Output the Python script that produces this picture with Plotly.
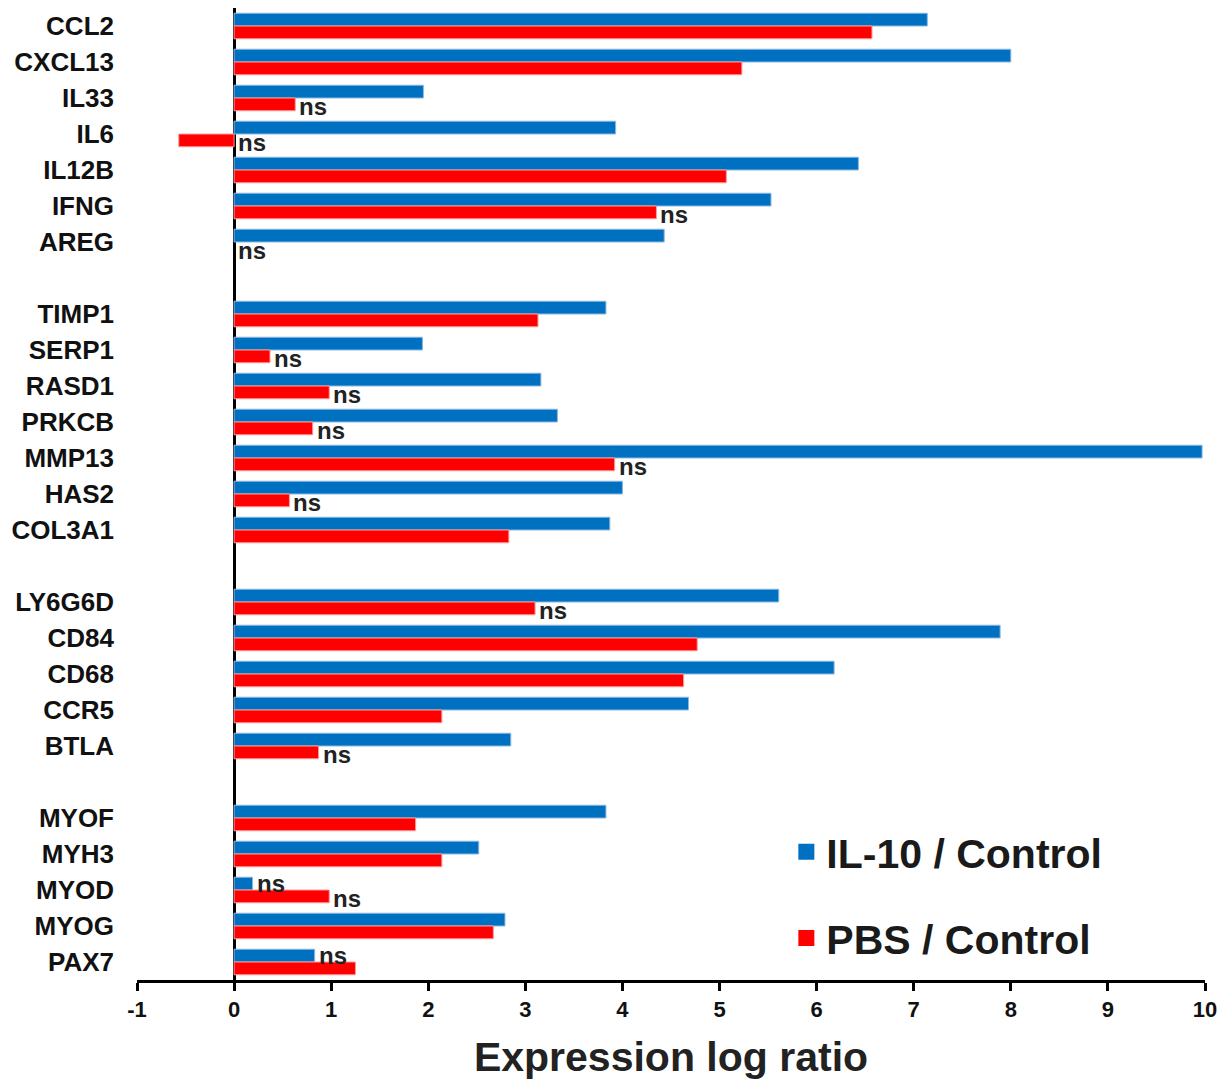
import plotly.graph_objects as go

# ---- data ----
group1 = ["CCL2", "CXCL13", "IL33", "IL6", "IL12B", "IFNG", "AREG"]
il10_g1 = [7.14, 8.00, 1.95, 3.93, 6.43, 5.53, 4.43]
pbs_g1 = [6.57, 5.23, 0.63, -0.57, 5.07, 4.35, None]

group2 = ["TIMP1", "SERP1", "RASD1", "PRKCB", "MMP13", "HAS2", "COL3A1"]
il10_g2 = [3.83, 1.94, 3.16, 3.33, 9.97, 4.00, 3.87]
pbs_g2 = [3.13, 0.37, 0.98, 0.81, 3.92, 0.57, 2.83]

group3 = ["LY6G6D", "CD84", "CD68", "CCR5", "BTLA"]
il10_g3 = [5.61, 7.89, 6.18, 4.68, 2.85]
pbs_g3 = [3.10, 4.77, 4.63, 2.14, 0.87]

group4 = ["MYOF", "MYH3", "MYOD", "MYOG", "PAX7"]
il10_g4 = [3.83, 2.52, 0.19, 2.79, 0.83]
pbs_g4 = [1.87, 2.14, 0.98, 2.67, 1.25]

ns_il10 = ["MYOD", "PAX7"]
ns_pbs = ["IL33", "IL6", "IFNG", "AREG", "SERP1", "RASD1", "PRKCB", "MMP13",
          "HAS2", "LY6G6D", "BTLA", "MYOD"]

x_ticks = [-1, 0, 1, 2, 3, 4, 5, 6, 7, 8, 9, 10]

BLUE = "#0070C0"
RED = "#FF0000"
FONT = "Arial, Liberation Sans, sans-serif"

# ---- assemble categories with spacer rows between groups ----
groups = [(group1, il10_g1, pbs_g1), (group2, il10_g2, pbs_g2),
          (group3, il10_g3, pbs_g3), (group4, il10_g4, pbs_g4)]
cats, il10_all, pbs_all = [], [], []
for gi, (g, a, b) in enumerate(groups):
    if gi > 0:
        spacer = " " * gi
        cats.append(spacer)
        il10_all.append(None)
        pbs_all.append(None)
    cats.extend(g)
    il10_all.extend(a)
    pbs_all.extend(b)

fig = go.Figure()
fig.add_trace(go.Bar(
    y=cats, x=il10_all, orientation="h", name="IL-10 / Control",
    marker=dict(color=BLUE, line=dict(color="#8DB8E2", width=1)),
    showlegend=False, legendgroup="a"))
fig.add_trace(go.Bar(
    y=cats, x=pbs_all, orientation="h", name="PBS / Control",
    marker=dict(color=RED, line=dict(color="#FF9A9A", width=1)),
    showlegend=False, legendgroup="b"))

# legend entries with square markers
fig.add_trace(go.Scatter(x=[None], y=[None], mode="markers", name="IL-10 / Control",
                         marker=dict(symbol="square", size=20, color=BLUE),
                         legendgroup="a"))
fig.add_trace(go.Scatter(x=[None], y=[None], mode="markers", name="PBS / Control",
                         marker=dict(symbol="square", size=20, color=RED),
                         legendgroup="b"))

# "ns" annotations
annos = []
lookup_il10 = dict(zip(cats, il10_all))
lookup_pbs = dict(zip(cats, pbs_all))
for gname in ns_il10:
    v = lookup_il10[gname] or 0
    annos.append(dict(x=max(v, 0), y=gname, text="ns", showarrow=False,
                      xanchor="left", yanchor="middle", xshift=2, yshift=7,
                      font=dict(family=FONT, size=24, color="#222222", weight="bold")))
for gname in ns_pbs:
    v = lookup_pbs[gname] or 0
    annos.append(dict(x=max(v, 0), y=gname, text="ns", showarrow=False,
                      xanchor="left", yanchor="middle", xshift=2, yshift=-8,
                      font=dict(family=FONT, size=24, color="#222222", weight="bold")))

fig.update_layout(
    width=1220, height=1076,
    margin=dict(l=129, r=23, t=0, b=104),
    paper_bgcolor="white", plot_bgcolor="white",
    barmode="group", bargap=0.29, bargroupgap=0,
    annotations=annos,
    legend=dict(x=0.608, y=0.166, xanchor="left", yanchor="top",
                font=dict(family=FONT, size=41, color="#1a1a1a", weight="bold"),
                tracegroupgap=30, bgcolor="rgba(0,0,0,0)"),
    font=dict(family=FONT, color="#111111"),
)
fig.update_xaxes(
    range=[-1, 10], tickvals=x_ticks, ticktext=[str(t) for t in x_ticks],
    showgrid=False, showline=True, linecolor="black", linewidth=2.5,
    ticks="outside", ticklen=8, tickwidth=2.5, tickcolor="black",
    zeroline=True, zerolinecolor="black", zerolinewidth=2.5,
    tickfont=dict(family=FONT, size=22, color="#111111", weight="bold"),
    title=dict(text="Expression log ratio", standoff=22,
               font=dict(family=FONT, size=41, color="#222222", weight="bold")),
)
fig.update_yaxes(
    type="category", categoryorder="array", categoryarray=cats,
    range=[len(cats) - 0.5, -0.5], showgrid=False, showline=False,
    zeroline=False, ticks="", ticklabelstandoff=22,
    tickfont=dict(family=FONT, size=26, color="#111111", weight="bold"),
)

fig.write_html("out.html")
